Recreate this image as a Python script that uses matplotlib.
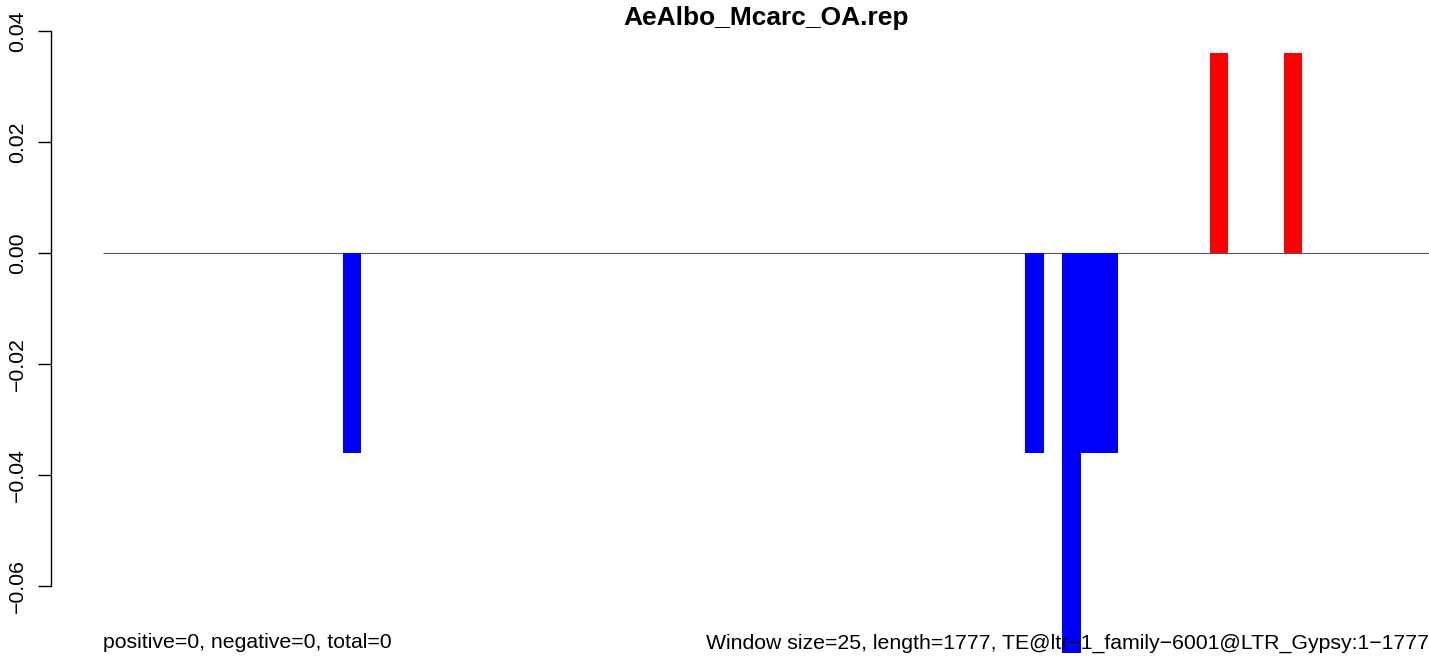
import numpy as np
import matplotlib
matplotlib.use('Agg')
import matplotlib.pyplot as plt

plt.rcParams['font.family'] = ['Liberation Sans', 'DejaVu Sans']

title = 'AeAlbo_Mcarc_OA.rep'
n_windows = 72
# windows with a negative (blue) or positive (red) score
neg_windows = [13, 50, 52, 53, 54]
neg_values = [-0.036, -0.036, -0.072, -0.036, -0.036]
pos_windows = [60, 64]
pos_values = [0.036, 0.036]
y_ticks = [-0.06, -0.04, -0.02, 0.00, 0.02, 0.04]
left_note = 'positive=0, negative=0, total=0'
right_note = ('Window size=25, length=1777, '
              'TE@ltr\u22121_family\u22126001@LTR_Gypsy:1\u22121777')


def main():
    W, H = 1429, 658
    fig = plt.figure(figsize=(W / 100, H / 100), dpi=100)
    ax = fig.add_axes([51 / W, 0, (W - 51) / W, 1])

    neg = np.zeros(n_windows)
    neg[neg_windows] = neg_values
    pos = np.zeros(n_windows)
    pos[pos_windows] = pos_values
    x = np.arange(n_windows)

    # zero line first, bars on top
    ax.hlines(0, 0, n_windows, color='#555555', linewidth=0.8, zorder=1)
    ax.bar(x, neg, width=1.0, align='edge', color='#0000ff', linewidth=0, zorder=2)
    ax.bar(x, pos, width=1.0, align='edge', color='#ff0000', linewidth=0, zorder=2)

    ax.set_xlim(-2.818, 71.87)
    ax.set_ylim(-0.07297, 0.04559)

    for s in ['top', 'right', 'bottom']:
        ax.spines[s].set_visible(False)
    ax.spines['left'].set_bounds(y_ticks[0], y_ticks[-1])
    ax.spines['left'].set_linewidth(1.0)
    ax.set_xticks([])
    ax.set_yticks(y_ticks)
    ax.set_yticklabels(['\u2212%.2f' % abs(t) if t < 0 else '%.2f' % t for t in y_ticks],
                       rotation=90, va='center', fontsize=15.3)
    ax.tick_params(axis='y', length=9.4, width=1.0, pad=8)

    fig.text((103 + 1429) / 2 / W, 1 - 18 / H, title, fontsize=19,
             fontweight='bold', ha='center', va='center')
    fig.text(103 / W, 1 - 643 / H, left_note, fontsize=15.3, ha='left', va='center')
    fig.text(1429 / W, 1 - 643 / H, right_note, fontsize=15.3, ha='right', va='center',
             zorder=5)

    fig.savefig('out.png', dpi=100)


if __name__ == '__main__':
    main()
